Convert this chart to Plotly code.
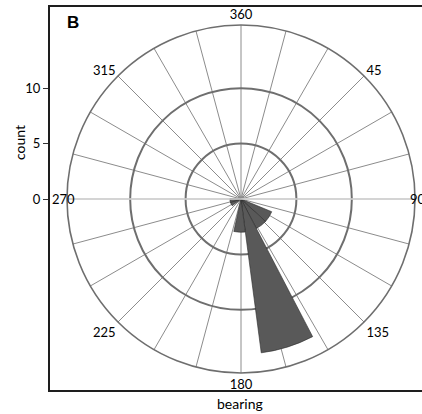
import plotly.graph_objects as go

W, H = 422, 414

# Data: 20-degree bearing bins (centres) and counts
bin_centres = [122.5, 142.5, 162.5, 182.5, 242.5, 262.5]
counts = [3, 3, 14, 3, 1, 1]
bin_width = 20

angle_ticks = list(range(0, 360, 15))
angle_labels = {0: "360", 45: "45", 135: "135", 180: "180",
                225: "225", 315: "315"}
side_labels = {"270": (50, "left"), "90": (408, "left")}
count_ticks = [0, 5, 10]
r_max = 15.7

cx, cy, rad = 241, 199, 174

def px(x):
    return x / W

def py(y):
    return 1 - y / H

fig = go.Figure()

# light horizontal line through 90/270
fig.add_trace(go.Scatterpolar(
    r=[r_max, 0, r_max], theta=[270, 0, 90], mode="lines",
    line=dict(color="#d9d9d9", width=1.4), hoverinfo="skip", showlegend=False))

fig.add_trace(go.Barpolar(
    r=counts, theta=bin_centres, width=[bin_width] * len(counts),
    marker=dict(color="#595959", line=dict(color="#2a2a2a", width=0.6)),
    showlegend=False))

# dummy cartesian trace so the count axis exists
fig.add_trace(go.Scatter(x=[0], y=[0], mode="markers",
                         marker=dict(opacity=0), hoverinfo="skip",
                         showlegend=False))

xd = [px(cx - rad), px(cx + rad)]
yd = [py(cy + rad), py(cy - rad)]

annotations = [
    dict(text="<b>B</b>", x=px(73), y=py(22),
         font=dict(size=17, color="black", family="Liberation Sans, Arial")),
    dict(text="count", x=px(19), y=py(143), textangle=-90,
         font=dict(size=14)),
    dict(text="bearing", x=px(240), y=py(403), font=dict(size=14)),
]
for a in annotations:
    a.update(xref="paper", yref="paper", showarrow=False,
             xanchor="center", yanchor="middle")
for txt, (x0, anc) in side_labels.items():
    annotations.append(dict(text=txt, xref="paper", yref="paper",
                            x=px(x0), y=py(cy), xanchor=anc, yanchor="middle",
                            showarrow=False,
                            font=dict(size=13, color="black")))

fig.update_layout(
    width=W, height=H,
    margin=dict(l=0, r=0, t=0, b=0, pad=0, autoexpand=False),
    paper_bgcolor="white", plot_bgcolor="rgba(0,0,0,0)",
    font=dict(family="Lato, Open Sans, sans-serif", color="black"),
    polar=dict(
        domain=dict(x=xd, y=yd),
        bgcolor="rgba(0,0,0,0)",
        angularaxis=dict(
            rotation=90, direction="clockwise",
            tickvals=angle_ticks,
            ticktext=[angle_labels.get(a, "") for a in angle_ticks],
            ticks="", showline=True, linecolor="#6e6e6e", linewidth=1.6,
            gridcolor="#8c8c8c", gridwidth=0.8,
            tickfont=dict(size=13, color="black"),
        ),
        radialaxis=dict(
            range=[0, r_max], tickvals=[5, 10], showticklabels=False,
            ticks="", showline=False, gridcolor="#6e6e6e", gridwidth=1.6,
        ),
    ),
    xaxis=dict(visible=False, domain=[0.0, 0.01], range=[1, 2]),
    yaxis=dict(
        domain=yd, range=[-r_max, r_max], anchor="free",
        position=px(49), side="left",
        tickvals=count_ticks, ticks="outside", ticklen=6, tickwidth=1.2,
        tickcolor="#333", showgrid=False, zeroline=False, showline=False,
        tickfont=dict(size=13, color="black"),
    ),
    shapes=[
        dict(type="line", xref="paper", yref="paper", x0=px(49), x1=px(49),
             y0=py(6), y1=py(391), line=dict(color="#1e1e1e", width=2)),
        dict(type="line", xref="paper", yref="paper", x0=px(48), x1=1.01,
             y0=py(6), y1=py(6), line=dict(color="#1e1e1e", width=2)),
        dict(type="line", xref="paper", yref="paper", x0=px(48), x1=1.01,
             y0=py(391), y1=py(391), line=dict(color="#1e1e1e", width=2)),
    ],
    annotations=annotations,
)

fig.write_html("out.html",
               config={"displayModeBar": False},
               post_script="document.body.style.margin='0px';"
                           "document.body.style.overflow='hidden';")
